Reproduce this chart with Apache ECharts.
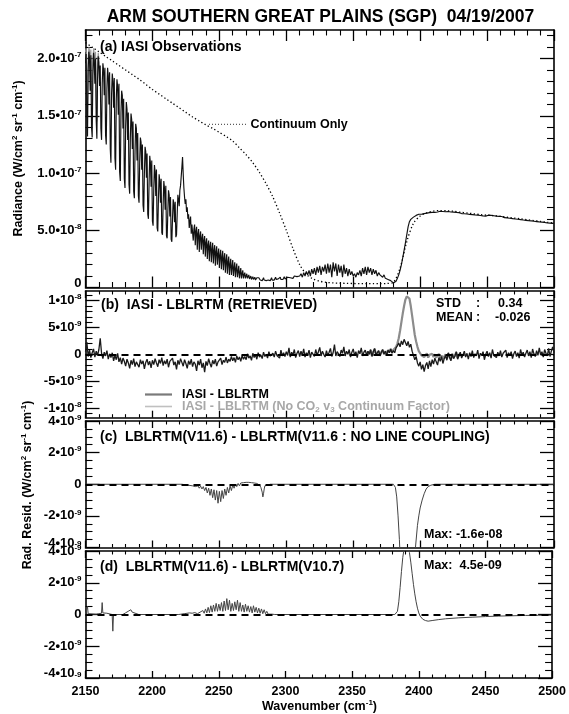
<!DOCTYPE html>
<html>
<head>
<meta charset="utf-8">
<script src="https://cdn.jsdelivr.net/npm/echarts@6/dist/echarts.min.js"></script>
<style>
html, body { margin: 0; padding: 0; background: #fff; }
#chart { width: 569px; height: 714px; }
</style>
</head>
<body>
<div id="chart"></div>
<script>
// All radiance values below are stored in units of 1e-9 W/(cm2 sr cm-1).
const UNIT = 1e-9;

// (a) IASI observed radiance, 2150-2299.5 cm-1 every 0.5 cm-1
const obsFineStart = 2150, obsFineStep = 0.5;
const obsFine = [
  196, 204, 150, 132, 190, 206, 200, 172, 203, 140, 131, 186, 205, 198, 178, 200, 146, 130, 182, 202,
  197, 176, 194, 139, 129, 178, 196, 190, 168, 192, 133, 125, 174, 192, 185, 160, 188, 121, 109, 170,
  187, 180, 157, 183, 113, 103, 165, 182, 176, 151, 178, 101, 93, 153, 172, 168, 139, 165, 95, 87,
  141, 162, 156, 129, 153, 90, 82, 131, 152, 147, 121, 145, 84, 78, 119, 143, 139, 111, 135, 80,
  74, 110, 131, 127, 103, 125, 72, 66, 100, 123, 119, 96, 117, 64, 60, 92, 115, 109, 88, 111,
  58, 54, 86, 107, 101, 80, 103, 52, 49, 78, 99, 93, 74, 95, 48, 46, 72, 93, 87, 68,
  89, 45, 43, 66, 85, 81, 62, 79, 42, 40, 60, 77, 73, 57, 75, 44, 46, 64, 81, 77,
  71, 85, 89, 97, 105, 114, 99, 87, 79, 73, 77, 66, 70, 60, 64, 52, 58, 62, 47, 55,
  56, 41, 51, 55, 37, 49, 53, 33, 47, 51, 31, 45, 49, 33, 43, 47, 29, 41, 45, 27,
  39, 43, 25, 37, 41, 23, 36, 40, 22, 33, 39, 21, 32, 37, 19, 31, 36, 20, 29, 34,
  17, 28, 33, 16, 26, 32, 15, 25, 30, 13, 23, 29, 12, 22, 27, 11, 20, 25, 11, 18,
  24, 10, 17, 22, 9, 16, 21, 9, 14, 19, 8, 13, 17, 8, 12, 15, 8, 11, 13, 8,
  10, 12, 8, 9, 11, 7.5, 9, 10, 7, 8.5, 9.5, 7, 8, 9, 6.5, 8, 8.5, 7, 7.5, 8.5,
  7, 6.5, 8, 7.5, 6, 7, 8.5, 6.5, 7, 8, 6, 7.5, 7, 6.5, 8, 7, 6, 7.5, 8.5, 6.5,
  7, 8, 6.5, 7, 9, 7, 6.5, 8, 7.5, 6.5, 8, 9, 7, 7.5, 8.5, 7, 8, 9.5, 7.5, 8
];
// (a) IASI observed radiance, 2300-2500 cm-1 every 1 cm-1
const obsCoarseStart = 2300, obsCoarseStep = 1;
const obsCoarse = [
  8, 9, 7.5, 8.5, 9, 8, 10, 8.5, 9.5, 8,
  10, 12, 9, 13, 10, 14, 11, 15, 10, 16,
  12, 17, 11, 18, 13, 19, 11, 18, 14, 20,
  12, 21, 13, 20, 9, 22, 14, 21, 10, 20,
  13, 19, 9, 20, 12, 17, 10, 16, 11, 14,
  10, 12, 9, 13, 11, 15, 10, 17, 12, 18,
  11, 18, 13, 17, 11, 16, 12, 15, 10, 13,
  11, 12, 9, 11, 8, 9, 7, 7.5, 6, 5,
  4, 4.5, 5.5, 8, 11, 15, 20, 26, 32.5, 39,
  46, 53, 57.5, 59.5, 60.6, 61.5, 62.3, 63, 63.5, 64,
  64.5, 64, 65, 64.6, 65.5, 65, 66, 65.4, 66, 65.6,
  66.3, 65.7, 66.5, 66, 65.6, 66.6, 66.1, 66.4, 65.8, 66.2,
  66, 66.4, 65.7, 66, 65.4, 65.9, 65.2, 65.6, 64.9, 65.4,
  65, 64.6, 65.2, 64.4, 64.8, 64.2, 64.6, 63.9, 64.3, 63.7,
  64.1, 63.4, 63.9, 63.2, 63.6, 62.9, 62.2, 62.6, 63, 62.4,
  62.8, 63.2, 62.6, 63, 62.4, 62.7, 62.1, 62.4, 61.8, 62.2,
  61.6, 62, 61.4, 61, 61.5, 60.8, 61.2, 60.5, 60.9, 60.2,
  60.6, 59.9, 60.3, 59.6, 60, 59.3, 59.7, 59, 59.4, 58.7,
  59.1, 58.4, 58.8, 58.2, 58.6, 57.9, 58.3, 57.6, 58, 57.3,
  57.7, 57.1, 57.4, 56.8, 57.2, 56.5, 56.9, 56.3, 56.6, 56,
  56.2
];
// (a) LBLRTM calculation near the band edge, every 0.5 cm-1
const calcStart = 2150, calcStep = 0.5;
const calcRad = [206, 209, 185, 160, 200, 210, 207, 190, 208, 170, 150, 198, 209, 205, 192, 206, 165, 145, 195, 205, 200];
// (a) continuum-only calculation, every 5 cm-1
const contStart = 2150, contStep = 5;
const contRad = [
  214, 210, 206, 202, 198, 194, 190, 186, 182, 177.5,
  173, 169, 165, 161, 157, 153, 149, 145.5, 142, 139,
  135.5, 132, 128, 122, 116, 109, 100.5, 90.5, 79, 65,
  50, 34, 20, 11.5, 7.5, 5.5, 4.5, 4, 3.8, 3.6,
  3.5, 3.4, 3.4, 3.3, 3.3, 3.5, 4.5, 17, 40, 56,
  62.5, 65.3, 66.8, 67.2, 67, 66.6, 65.8, 65.1, 64.4, 63.7,
  63.2, 62.8, 62.2, 61.4, 60.7, 60, 59.2, 58.5, 57.7, 57,
  56.4
];

// (b) IASI - LBLRTM residual, every 1 cm-1
const residStart = 2150, residStep = 1;
const resid = [
  0.5, 2.3, -0.4, 0.8, -0.6, 0.3, 1.0, -0.5, 0.6, -0.2,
  0.9, 3.0, 0.2, -0.8, 0.4, -0.3, 0.7, -0.9, 0.1, -0.6,
  0.3, -1.2, -0.2, -1.0, 0.2, -1.4, -0.6, -1.8, -0.7, -1.3,
  -2.2, -0.9, -1.6, -2.6, -1.1, -1.9, -0.8, -2.3, -1.4, -1.7,
  -2.4, -1.0, -1.8, -1.2, -2.7, -1.5, -0.9, -2.0, -1.3, -2.5,
  -1.1, -1.9, -0.8, -1.6, -2.3, -1.0, -1.7, -0.6, -2.1, -1.2,
  -1.8, -0.9, -2.4, -1.3, -1.6, -0.7, -2.0, -1.4, -2.8, -1.1,
  -1.9, -0.8, -1.5, -2.2, -1.0, -1.7, -2.6, -1.2, -1.9, -0.9,
  -2.3, -1.4, -1.8, -3.1, -1.2, -2.0, -0.9, -2.5, -1.6, -3.3,
  -1.3, -2.1, -0.8, -1.7, -2.4, -1.1, -1.8, -0.9, -2.2, -1.4,
  -1.7, -0.7, -1.9, -1.1, -1.5, -0.5, -1.6, -0.9, -1.3, -0.4,
  -1.2, -0.6, -1.5, -0.3, -1.0, -0.5, -1.3, -0.2, -0.9, -0.4,
  -1.0, 0.1, -0.7, -0.3, -1.1, 0.2, -0.6, -0.1, -0.9, 0.3,
  -0.5, -0.1, -0.8, 0.4, -0.4, 0.0, -0.7, 0.5, -0.3, -0.6,
  0.2, -0.5, 0.6, -0.2, 0.1, -0.7, 0.8, -0.3, 0.3, -0.4,
  0.5, -0.2, 1.2, -0.5, 0.4, -0.1, 0.9, -0.6, 0.2, 0.7,
  -0.4, 0.6, -0.2, 1.0, -0.5, 0.3, -0.1, 0.8, -0.6, 0.4,
  0.1, -0.4, 0.9, -0.2, 0.5, 1.3, -0.3, 0.6, 0.0, -0.5,
  0.7, -0.2, 0.4, 1.1, -0.4, 0.3, 1.8, -0.3, 0.5, 0.1,
  -0.4, 0.8, 0.2, 1.4, -0.3, 0.6, 0.0, 0.9, -0.5, 0.4,
  1.0, -0.2, 0.5, -0.6, 0.7, 0.1, 1.2, -0.3, 0.4, 0.8,
  -0.2, 0.6, 0.0, 0.9, -0.4, 0.5, 1.1, -0.1, 0.3, 0.7,
  -0.3, 0.4, 0.9, 0.0, 0.6, -0.2, 0.8, 0.3, 1.0, 0.2,
  0.7, 0.3, 1.2, 1.6, 2.1, 1.4, 2.5, 1.8, 2.8, 2.2,
  1.6, 2.4, 1.3, 1.9, 0.6, -0.2, -1.0, -0.4, -1.6, -2.2,
  -1.4, -2.8, -1.9, -3.2, -2.1, -1.5, -2.7, -1.2, -2.3, -1.0,
  -1.8, -0.7, -1.4, -2.0, -0.6, -1.3, -0.4, -1.7, -0.8, -0.2,
  -1.1, 0.3, -0.6, -1.2, 0.1, -0.8, -0.3, 0.5, -0.9, -0.2,
  0.4, -0.7, -0.1, 0.6, -0.5, 0.2, -0.9, 0.3, -0.4, 0.7,
  -0.6, 0.1, -0.3, 0.8, -0.8, 0.2, -0.2, 0.5, -1.0, 0.0,
  0.6, -0.4, 0.3, -0.7, 0.9, -0.2, 0.1, -0.6, 0.4, -0.3,
  0.7, -0.5, 0.2, -0.1, 0.8, -0.6, 0.3, -0.2, 0.5, -0.8,
  0.1, 0.6, -0.4, 0.3, -0.7, 0.9, -0.1, 0.4, -0.5, 0.2,
  0.8, -0.3, 0.5, -0.6, 1.0, 0.1, -0.4, 0.7, -0.2, 1.2,
  -0.1, 0.5, -0.5, 0.9, 0.2, -0.3, 1.1, -0.4, 0.6, 1.4,
  0.3
];
// (b) residual without the CO2 v3 continuum factor, 2360-2430 cm-1
const residNoCo2Start = 2360, residNoCo2Step = 1;
const residNoCo2 = [
  -0.2, 0.5, 0.1, 0.8, -0.3, 0.4, 1.0, 0.0, 0.3, 0.6,
  -0.2, 0.4, 0.8, 0.1, 0.6, 0.0, 0.8, 0.4, 1.0, 0.4,
  0.8, 0.6, 1.4, 2.0, 3.0, 4.4, 6.0, 7.6, 9.0, 10.2,
  10.8, 11.0, 10.4, 9.0, 7.2, 5.4, 3.6, 2.4, 1.4, 0.6,
  0.2, -0.2, 0.1, -0.5, -0.2, 0.2, -0.6, -0.1, -0.4, 0.1,
  -0.5, 0.0, -0.6, -0.3, 0.1, -0.7, -0.2, -0.9, -0.4, 0.0,
  -0.8, 0.2, -0.4, -0.9, 0.1, -0.6, -0.2, 0.4, -0.7, -0.1,
  0.3
];

// (c) effect of line coupling
const couplingWn = [
  2150, 2222, 2226, 2230, 2232, 2234,
  2235, 2236, 2237, 2238, 2239, 2240, 2241, 2242, 2243, 2244, 2245, 2246, 2247, 2248, 2249, 2250,
  2251, 2252, 2253, 2254, 2255, 2256, 2257, 2258, 2259, 2260, 2261, 2262, 2263, 2264, 2265, 2266,
  2267, 2268, 2269, 2270, 2271, 2272, 2273, 2274, 2275, 2276, 2277, 2278, 2279, 2280, 2281, 2282,
  2282.5, 2283, 2283.5, 2284, 2285, 2288,
  2380, 2381.5, 2382.5, 2383.5, 2384.5, 2385.5, 2387, 2389, 2390.5, 2392, 2394, 2395.5, 2396.5,
  2398, 2399, 2400, 2401.5, 2403, 2404.5, 2406, 2408, 2411, 2500
];
const couplingDiff = [
  0, 0, -0.05, -0.1, -0.15, -0.1,
  -0.25, -0.12, -0.3, -0.15, -0.4, -0.2, -0.55, -0.25, -0.7, -0.3, -0.85, -0.35, -1.0, -0.4, -1.2, -0.45,
  -1.1, -0.4, -0.9, -0.3, -0.7, -0.2, -0.55, -0.1, -0.4, -0.05, -0.25, 0.0, -0.15, 0.05, -0.1, 0.08,
  0.0, 0.1, 0.02, 0.12, 0.05, 0.12, 0.06, 0.1, 0.04, 0.08, 0.02, 0.05, 0.0, -0.05, -0.2, -0.5,
  -0.8, -0.6, -0.3, -0.1, 0.0, 0,
  0, -0.2, -0.8, -2, -3.5, -5.5, -10, -15, -16, -14.5, -9, -5.5, -4,
  -2.6, -2, -1.5, -1.0, -0.6, -0.3, -0.15, -0.06, 0, 0
];

// (d) V11.6 - V10.7
const versionWn = [
  2150, 2151, 2151.5, 2152, 2153, 2158, 2159, 2160, 2161, 2162, 2162.5, 2163, 2164, 2166, 2167,
  2170, 2170.5, 2171, 2178, 2180, 2181, 2182, 2183, 2184, 2185, 2186, 2190,
  2220, 2224, 2228, 2230, 2232, 2234,
  2236, 2237, 2238, 2239, 2240, 2241, 2242, 2243, 2244, 2245, 2246, 2247, 2248, 2249, 2250,
  2251, 2252, 2253, 2254, 2255, 2256, 2257, 2258, 2259, 2260, 2261, 2262, 2263, 2264, 2265,
  2266, 2267, 2268, 2269, 2270, 2271, 2272, 2273, 2274, 2275, 2276, 2277, 2278, 2279, 2280,
  2281, 2282, 2283, 2284, 2285, 2286, 2287, 2288,
  2290, 2292, 2382, 2383, 2384, 2385, 2386, 2387, 2388, 2389, 2390, 2391, 2392, 2393, 2394,
  2395, 2396, 2397, 2398, 2399, 2400, 2401, 2403, 2405, 2407, 2410, 2415, 2420, 2430, 2440,
  2450, 2460, 2470, 2480, 2490, 2500
];
const versionDiff = [
  0, 0.05, 0.5, 0.05, 0, 0.02, 0.1, 0.05, 0.15, 0.08, 0.75, 0.1, 0.02, 0.08, 0,
  0, -1.05, 0, 0, 0.1, 0.05, 0.2, 0.1, 0.3, 0.15, 0.05, 0,
  0, 0.05, 0.1, 0.08, 0.12, 0.05,
  0.15, 0.05, 0.25, 0.08, 0.35, 0.1, 0.45, 0.12, 0.55, 0.15, 0.6, 0.2, 0.7, 0.2, 0.65,
  0.25, 0.75, 0.2, 0.85, 0.25, 1.0, 0.3, 0.9, 0.2, 0.7, 0.25, 0.8, 0.3, 0.9, 0.2,
  0.75, 0.2, 0.6, 0.15, 0.65, 0.2, 0.55, 0.15, 0.5, 0.1, 0.55, 0.15, 0.45, 0.1, 0.4,
  0.08, 0.35, 0.05, 0.3, 0.05, 0.2, 0.02, 0.12,
  0.02, 0, 0, 0.05, 0.2, 0.8, 1.7, 2.7, 3.6, 4.15, 4.45, 4.5, 4.3, 3.9, 3.3,
  2.6, 1.9, 1.3, 0.8, 0.4, 0.1, -0.1, -0.3, -0.38, -0.42, -0.38, -0.32, -0.27, -0.21, -0.17,
  -0.13, -0.1, -0.08, -0.06, -0.05, -0.04
];

// Y tick values (x1e-9) and their labels; "^" marks the exponent
const ticksA = [0, 50, 100, 150, 200];
const labelsA = ['0', '5.0•10^-8', '1.0•10^-7', '1.5•10^-7', '2.0•10^-7'];
const ticksB = [-10, -5, 0, 5, 10];
const labelsB = ['-1•10^-8', '-5•10^-9', '0', '5•10^-9', '1•10^-8'];
const ticksCD = [-4, -2, 0, 2, 4];
const labelsCD = ['-4•10^-9', '-2•10^-9', '0', '2•10^-9', '4•10^-9'];

const FONT = '"Liberation Sans", Arial, Helvetica, sans-serif';

function regular(start, step, vals) {
  return vals.map((v, i) => [start + i * step, v * UNIT]);
}
function paired(xs, ys) {
  return xs.map((x, i) => [x, ys[i] * UNIT]);
}
function minorTicks(from, to, step, majors) {
  const out = [];
  for (let k = Math.round(from / step); k <= Math.round(to / step); k++) {
    const v = k * step;
    if (!majors.some(m => Math.abs(m - v) < step / 10)) out.push(v * UNIT);
  }
  return out;
}

const axisRich = {
  b: { fontFamily: FONT, fontWeight: 'bold', fontSize: 13, lineHeight: 15, color: '#000' },
  s: { fontFamily: FONT, fontWeight: 'bold', fontSize: 8, lineHeight: 7.5, verticalAlign: 'top', color: '#000' },
  bl: { fontFamily: FONT, fontWeight: 'bold', fontSize: 13, lineHeight: 15, color: '#000', padding: [0, 0, 9, 0] },
  sl: { fontFamily: FONT, fontWeight: 'bold', fontSize: 8, lineHeight: 7.5, verticalAlign: 'top', color: '#000', padding: [0, 0, 9, 0] }
};

function labelFormatter(ticks, labels, raiseLowest) {
  return function (value) {
    let k = 0, best = Infinity;
    ticks.forEach((t, i) => { const d = Math.abs(t * UNIT - value); if (d < best) { best = d; k = i; } });
    const low = raiseLowest && k === 0;
    const parts = labels[k].split('^');
    let out = '{' + (low ? 'bl' : 'b') + '|' + parts[0] + '}';
    if (parts[1]) out += '{' + (low ? 'sl' : 's') + '|' + parts[1] + '}';
    return out;
  };
}

const panels = [
  { top: 30, height: 257.5, min: 0, max: 225, ticks: ticksA, labels: labelsA, minor: minorTicks(0, 225, 10, ticksA), xMajor: 11, xMinor: 5.5, raise: true },
  { top: 291, height: 126.7, min: -11.8, max: 11.8, ticks: ticksB, labels: labelsB, minor: minorTicks(-11.8, 11.8, 1, ticksB), xMajor: 7, xMinor: 3.5, raise: false },
  { top: 421, height: 126.5, min: -4, max: 4, ticks: ticksCD, labels: labelsCD, minor: minorTicks(-3.9, 3.9, 0.5, ticksCD), xMajor: 7, xMinor: 3.5, raise: true },
  { top: 551, height: 127, min: -4, max: 4, ticks: ticksCD, labels: labelsCD, minor: minorTicks(-3.9, 3.9, 0.5, ticksCD), xMajor: 7, xMinor: 3.5, raise: true }
];

const AXIS_LINE = { show: true, onZero: false, lineStyle: { color: '#000', width: 1.6 } };
const grids = [], xAxes = [], yAxes = [];

panels.forEach((p, i) => {
  grids.push({ left: 85.5, width: 468.5, top: p.top, height: p.height });
  ['bottom', 'top'].forEach(pos => {
    xAxes.push({
      type: 'value', gridIndex: i, position: pos, min: 2150, max: 2500, interval: 50,
      axisLine: AXIS_LINE,
      axisTick: { show: true, inside: true, length: p.xMajor, lineStyle: { color: '#000', width: 1.3 } },
      minorTick: { show: true, splitNumber: 5, length: p.xMinor, lineStyle: { color: '#000', width: 1.1 } },
      axisLabel: {
        show: i === 3 && pos === 'bottom', margin: 7, formatter: v => String(v),
        color: '#000', fontFamily: FONT, fontWeight: 'bold', fontSize: 12.5
      },
      splitLine: { show: false }, minorSplitLine: { show: false }
    });
  });
  ['left', 'right'].forEach(pos => {
    yAxes.push({
      type: 'value', gridIndex: i, position: pos, min: p.min * UNIT, max: p.max * UNIT,
      axisLine: AXIS_LINE,
      axisTick: { show: true, inside: true, length: 14, customValues: p.ticks.map(v => v * UNIT), lineStyle: { color: '#000', width: 1.3 } },
      axisLabel: pos === 'left'
        ? { show: true, margin: 4, customValues: p.ticks.map(v => v * UNIT), formatter: labelFormatter(p.ticks, p.labels, p.raise), rich: axisRich, showMinLabel: true, showMaxLabel: true }
        : { show: false },
      splitLine: { show: false }
    });
    yAxes.push({
      type: 'value', gridIndex: i, position: pos, min: p.min * UNIT, max: p.max * UNIT,
      axisLine: { show: false },
      axisTick: { show: true, inside: true, length: 7, customValues: p.minor, lineStyle: { color: '#000', width: 1.1 } },
      axisLabel: { show: false },
      splitLine: { show: false }
    });
  });
});

const zeroLine = {
  silent: true, symbol: ['none', 'none'], label: { show: false },
  lineStyle: { color: '#000', type: [7, 5], width: 1.8 },
  data: [{ yAxis: 0 }]
};

const obsData = regular(obsFineStart, obsFineStep, obsFine).concat(regular(obsCoarseStart, obsCoarseStep, obsCoarse));

const series = [
  { type: 'line', xAxisIndex: 0, yAxisIndex: 0, data: regular(calcStart, calcStep, calcRad), symbol: 'none', lineStyle: { color: '#9a9a9a', width: 1.1 }, z: 2, silent: true },
  { type: 'line', xAxisIndex: 0, yAxisIndex: 0, data: obsData, symbol: 'none', lineStyle: { color: '#111', width: 1.15 }, z: 3, silent: true },
  { type: 'line', xAxisIndex: 0, yAxisIndex: 0, data: regular(contStart, contStep, contRad), symbol: 'none', smooth: 0.3, lineStyle: { color: '#000', width: 1.3, type: [1.3, 2.4] }, z: 4, silent: true },

  { type: 'line', xAxisIndex: 2, yAxisIndex: 4, data: regular(residNoCo2Start, residNoCo2Step, residNoCo2), symbol: 'none', lineStyle: { color: '#8c8c8c', width: 2.2 }, z: 2, silent: true, markLine: zeroLine },
  { type: 'line', xAxisIndex: 2, yAxisIndex: 4, data: regular(residStart, residStep, resid), symbol: 'none', lineStyle: { color: '#1a1a1a', width: 1.3 }, z: 3, silent: true },

  { type: 'line', xAxisIndex: 4, yAxisIndex: 8, data: paired(couplingWn, couplingDiff), symbol: 'none', lineStyle: { color: '#444', width: 1 }, z: 2, silent: true, markLine: zeroLine },
  { type: 'line', xAxisIndex: 6, yAxisIndex: 12, data: paired(versionWn, versionDiff), symbol: 'none', lineStyle: { color: '#444', width: 1 }, z: 2, silent: true, markLine: zeroLine }
];

function txt(x, y, text, size, opt) {
  opt = opt || {};
  return {
    type: 'text', x: x, y: y, rotation: opt.rot || 0, silent: true, z: 100,
    style: {
      text: text, fill: opt.color || '#000', font: 'bold ' + size + 'px ' + FONT,
      align: opt.align || 'left', verticalAlign: 'middle', rich: opt.rich
    }
  };
}
function richSet(size, color) {
  const f = 'bold ' + size + 'px ' + FONT;
  const fs = 'bold ' + Math.round(size * 0.62) + 'px ' + FONT;
  return {
    t: { font: f, fill: color, lineHeight: size + 3 },
    p: { font: fs, fill: color, lineHeight: Math.round(size * 0.6), verticalAlign: 'top' },
    q: { font: fs, fill: color, lineHeight: Math.round(size * 0.6), verticalAlign: 'bottom' }
  };
}
const unitsText = '{t|(W/cm}{p|2}{t| sr}{p|-1}{t| cm}{p|-1}{t|)}';

const graphics = [
  txt(320.5, 17, 'ARM SOUTHERN GREAT PLAINS (SGP)  04/19/2007', 17.5, { align: 'center' }),
  txt(100, 47, '(a) IASI Observations', 14),
  txt(250.5, 124.5, 'Continuum Only', 12.5),
  { type: 'line', silent: true, z: 100, shape: { x1: 209, y1: 124.3, x2: 246, y2: 124.3 }, style: { stroke: '#333', lineWidth: 1, lineDash: [1, 2] } },
  txt(101, 305, '(b)  IASI - LBLRTM (RETRIEVED)', 14),
  txt(436, 304, 'STD', 12.5), txt(476, 304, ':', 12.5), txt(498, 304, '0.34', 12.5),
  txt(436, 318, 'MEAN', 12.5), txt(476, 318, ':', 12.5), txt(495, 318, '-0.026', 12.5),
  { type: 'line', silent: true, z: 100, shape: { x1: 145, y1: 394.5, x2: 172, y2: 394.5 }, style: { stroke: '#7a7a7a', lineWidth: 2.2 } },
  txt(182, 394.5, 'IASI - LBLRTM', 12.5),
  { type: 'line', silent: true, z: 100, shape: { x1: 145, y1: 406.5, x2: 172, y2: 406.5 }, style: { stroke: '#c0c0c0', lineWidth: 1.6 } },
  txt(182, 406.5, '{t|IASI - LBLRTM (No CO}{q|2}{t| v}{q|3}{t| Continuum Factor)}', 12.5, { color: '#a8a8a8', rich: richSet(12.5, '#a8a8a8') }),
  txt(100, 437, '(c)  LBLRTM(V11.6) - LBLRTM(V11.6 : NO LINE COUPLING)', 14),
  txt(424, 535, 'Max: -1.6e-08', 12.5),
  txt(100, 567.5, '(d)  LBLRTM(V11.6) - LBLRTM(V10.7)', 14),
  txt(424, 565.5, 'Max:  4.5e-09', 12.5),
  txt(19, 158.5, '{t|Radiance }' + unitsText, 12.5, { align: 'center', rot: Math.PI / 2, rich: richSet(12.5, '#000') }),
  txt(28, 485, '{t|Rad. Resid. }' + unitsText, 12.5, { align: 'center', rot: Math.PI / 2, rich: richSet(12.5, '#000') }),
  txt(319.5, 706.5, '{t|Wavenumber (cm}{p|-1}{t|)}', 12.5, { align: 'center', rich: richSet(12.5, '#000') })
];

const chart = echarts.init(document.getElementById('chart'), null, { renderer: 'canvas' });
chart.setOption({
  animation: false,
  backgroundColor: '#fff',
  textStyle: { fontFamily: FONT },
  grid: grids,
  xAxis: xAxes,
  yAxis: yAxes,
  series: series,
  graphic: graphics
});
</script>
</body>
</html>
